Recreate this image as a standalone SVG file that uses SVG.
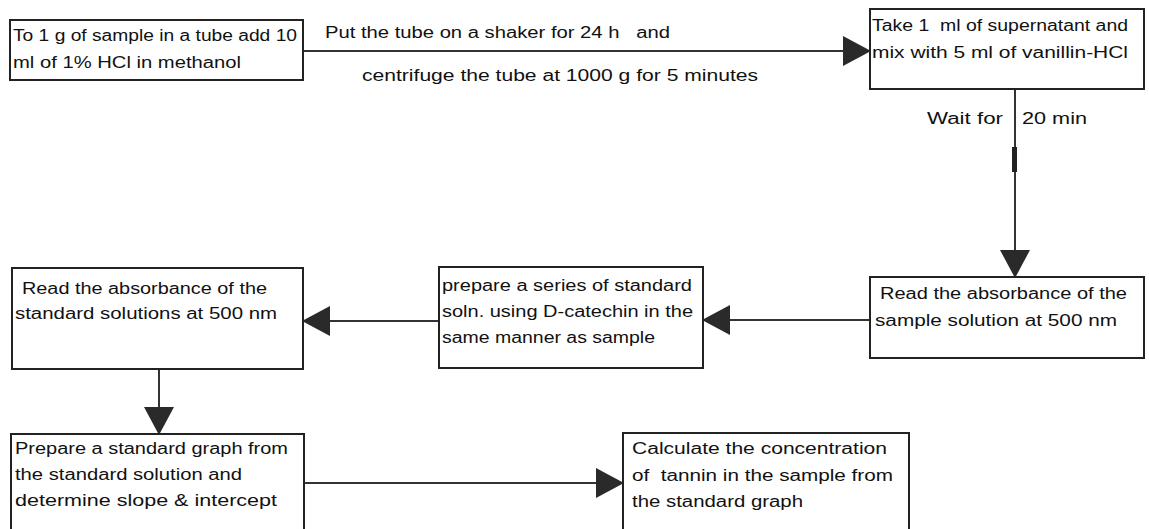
<svg xmlns="http://www.w3.org/2000/svg" width="1149" height="529" viewBox="0 0 1149 529">
<style>
.box{fill:#fff;stroke:#222;stroke-width:2}
.t{font-family:"Liberation Sans",Arial,sans-serif;font-size:16px;fill:#111;white-space:pre}
.c{stroke:#333;stroke-width:2;fill:none}
</style>
<defs>
<marker id="ah" markerUnits="userSpaceOnUse" markerWidth="28" markerHeight="30" viewBox="0 0 28 30" refX="27" refY="15" orient="auto">
<path d="M0,0 L28,15 L0,30 Z" fill="#2a2a2a"/>
</marker>
</defs>
<rect width="1149" height="529" fill="#fff"/>
<g id="connectors">
<line class="c" x1="303" y1="51" x2="870" y2="51" marker-end="url(#ah)"/>
<line class="c" x1="1015" y1="89" x2="1015" y2="277" marker-end="url(#ah)"/>
<rect x="1012" y="147" width="5" height="25" fill="#222"/>
<line class="c" x1="870" y1="320" x2="703" y2="320" marker-end="url(#ah)"/>
<line class="c" x1="439" y1="321" x2="303" y2="321" marker-end="url(#ah)"/>
<line class="c" x1="159" y1="369" x2="159" y2="434" marker-end="url(#ah)"/>
<line class="c" x1="304" y1="483" x2="623" y2="483" marker-end="url(#ah)"/>
<text class="t" xml:space="preserve" x="325" y="38" textLength="345" lengthAdjust="spacingAndGlyphs">Put the tube on a shaker for 24 h   and</text>
<text class="t" x="362" y="81" textLength="396" lengthAdjust="spacingAndGlyphs">centrifuge the tube at 1000 g for 5 minutes</text>
<text class="t" x="927" y="124" textLength="76" lengthAdjust="spacingAndGlyphs">Wait for</text>
<text class="t" x="1022" y="124" textLength="65" lengthAdjust="spacingAndGlyphs">20 min</text>
</g>
<g id="n1">
<rect class="box" x="10" y="20" width="293" height="60"/>
<text class="t" x="13" y="41" textLength="284" lengthAdjust="spacingAndGlyphs">To 1 g of sample in a tube add 10</text>
<text class="t" x="13" y="68" textLength="228" lengthAdjust="spacingAndGlyphs">ml of 1% HCl in methanol</text>
</g>
<g id="n2">
<rect class="box" x="870" y="9" width="274" height="80"/>
<text class="t" xml:space="preserve" x="872" y="31" textLength="256" lengthAdjust="spacingAndGlyphs">Take 1  ml of supernatant and</text>
<text class="t" x="872" y="58" textLength="256" lengthAdjust="spacingAndGlyphs">mix with 5 ml of vanillin-HCl</text>
</g>
<g id="n3">
<rect class="box" x="870" y="277" width="274" height="81"/>
<text class="t" x="880" y="299" textLength="247" lengthAdjust="spacingAndGlyphs">Read the absorbance of the</text>
<text class="t" x="875" y="326" textLength="242" lengthAdjust="spacingAndGlyphs">sample solution at 500 nm</text>
</g>
<g id="n4">
<rect class="box" x="439" y="267" width="264" height="101"/>
<text class="t" x="442" y="291" textLength="250" lengthAdjust="spacingAndGlyphs">prepare a series of standard</text>
<text class="t" x="442" y="317" textLength="251" lengthAdjust="spacingAndGlyphs">soln. using D-catechin in the</text>
<text class="t" x="442" y="343" textLength="213" lengthAdjust="spacingAndGlyphs">same manner as sample</text>
</g>
<g id="n5">
<rect class="box" x="12" y="268" width="291" height="101"/>
<text class="t" x="22" y="294" textLength="245" lengthAdjust="spacingAndGlyphs">Read the absorbance of the</text>
<text class="t" x="15" y="319" textLength="262" lengthAdjust="spacingAndGlyphs">standard solutions at 500 nm</text>
</g>
<g id="n6">
<rect class="box" x="11" y="434" width="293" height="110"/>
<text class="t" x="15" y="454" textLength="273" lengthAdjust="spacingAndGlyphs">Prepare a standard graph from</text>
<text class="t" x="15" y="480" textLength="227" lengthAdjust="spacingAndGlyphs">the standard solution and</text>
<text class="t" x="15" y="506" textLength="262" lengthAdjust="spacingAndGlyphs">determine slope &amp; intercept</text>
</g>
<g id="n7">
<rect class="box" x="623" y="433" width="286" height="110"/>
<text class="t" x="632" y="454" textLength="255" lengthAdjust="spacingAndGlyphs">Calculate the concentration</text>
<text class="t" xml:space="preserve" x="632" y="481" textLength="261" lengthAdjust="spacingAndGlyphs">of  tannin in the sample from</text>
<text class="t" x="632" y="507" textLength="171" lengthAdjust="spacingAndGlyphs">the standard graph</text>
</g>
</svg>
